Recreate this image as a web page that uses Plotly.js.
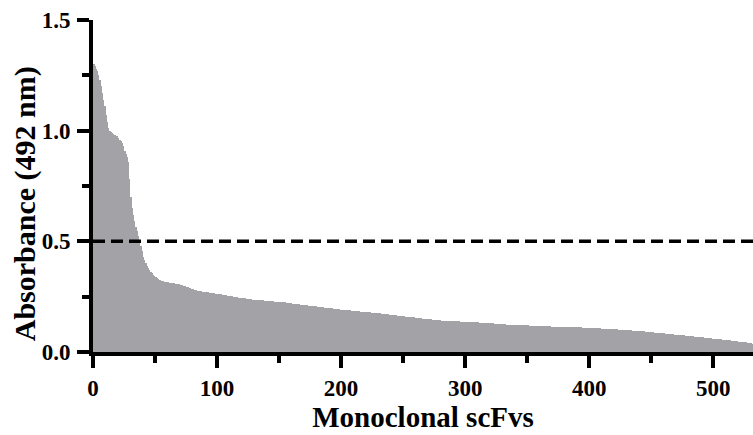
<!DOCTYPE html>
<html>
<head>
<meta charset="utf-8">
<script src="https://cdn.plot.ly/plotly-3.0.1.min.js"></script>
<style>
html,body{margin:0;padding:0;background:#fff;}
#chart{width:753px;height:435px;}
</style>
</head>
<body>
<div id="chart"></div>
<script>
// Absorbance (492 nm) of monoclonal scFvs, sorted descending
var absorbance = [
1.30,1.29,1.28,1.27,1.25,1.23,1.20,1.17,1.14,1.11,
1.07,1.04,1.01,1.00,0.995,0.99,0.985,0.98,0.978,0.975,
0.965,0.958,0.952,0.945,0.93,0.91,0.895,0.88,0.86,0.78,
0.70,0.65,0.62,0.59,0.565,0.545,0.525,0.505,0.48,0.455,
0.43,0.415,0.40,0.39,0.38,0.37,0.362,0.355,0.35,0.345,
0.34,0.335,0.331,0.327,0.324,0.322,0.320,0.318,0.317,0.316,
0.315,0.314,0.313,0.312,
0.311,0.310,0.309,0.308,0.306,0.305,0.304,0.302,0.300,0.298,0.296,
0.294,0.292,0.290,0.288,0.286,0.284,0.282,0.280,0.278,0.277,
0.276,0.275,0.274,0.273,0.272,0.271,0.270,0.269,0.268,0.268,0.267,0.266,0.265,0.264,0.264,0.263,0.262,0.261,0.260,0.259,
0.258,0.257,0.256,0.255,0.254,0.253,0.252,0.251,0.250,0.249,0.248,0.247,0.246,0.246,0.245,0.244,0.243,0.242,0.241,0.240,0.240,0.239,0.238,0.237,
0.237,0.236,0.236,0.235,0.235,0.234,0.234,0.233,0.233,0.232,0.232,0.231,0.231,0.230,0.230,0.229,0.229,0.228,0.228,0.227,0.227,0.226,0.226,0.225,
0.224,0.224,0.223,0.222,0.222,0.221,0.220,0.219,0.219,0.218,0.217,0.217,0.216,0.215,0.214,0.214,0.213,0.212,0.212,0.211,0.210,0.209,0.209,0.208,0.207,
0.206,0.206,0.205,0.204,0.204,0.203,0.202,0.202,0.201,0.200,0.200,0.199,0.198,0.198,0.197,0.196,0.196,0.195,0.194,0.194,0.193,0.192,0.192,
0.191,0.191,0.190,0.190,0.189,0.189,0.188,0.187,0.187,0.186,0.186,0.185,0.185,0.184,0.183,0.183,0.182,0.182,0.181,0.181,0.180,0.179,0.179,0.178,0.178,0.177,0.177,
0.176,0.175,0.175,0.174,0.173,0.173,0.172,0.171,0.170,0.170,0.169,0.168,0.168,0.167,0.166,0.166,0.165,0.164,0.163,0.163,0.162,0.161,0.161,0.160,0.159,0.159,0.158,
0.157,0.157,0.156,0.156,0.155,0.154,0.154,0.153,0.152,0.152,0.151,0.151,0.150,0.149,0.149,0.148,0.147,0.147,0.146,0.146,0.145,0.144,0.144,0.143,0.143,0.142,0.142,
0.141,0.141,0.141,0.140,0.140,0.140,0.139,0.139,0.139,0.139,0.138,0.138,0.138,0.138,0.137,0.137,0.137,0.137,0.136,0.136,0.136,0.136,0.135,0.135,0.135,0.135,
0.134,0.134,0.134,0.133,0.133,0.132,0.132,0.132,0.131,0.131,0.130,0.130,0.130,0.129,0.129,0.128,0.128,0.128,0.127,0.127,0.126,0.126,0.126,0.125,0.125,0.124,0.124,
0.124,0.123,0.123,0.123,0.123,0.122,0.122,0.122,0.121,0.121,0.121,0.121,0.120,0.120,0.120,0.120,0.119,0.119,0.119,0.119,0.118,0.118,0.118,0.118,0.117,0.117,0.117,
0.117,0.117,0.116,0.116,0.116,0.116,0.116,0.115,0.115,0.115,0.115,0.115,0.114,0.114,0.114,0.114,0.114,0.113,0.113,0.113,0.113,0.113,0.112,0.112,0.112,0.112,0.112,0.111,0.111,0.111,0.111,0.111,0.110,0.110,0.110,0.110,0.110,0.109,0.109,0.109,
0.109,0.108,0.108,0.108,0.107,0.107,0.107,0.106,0.106,0.106,0.105,0.105,0.105,0.104,0.104,0.104,0.103,0.103,0.103,0.102,0.102,0.101,0.101,0.101,0.100,0.100,0.100,0.099,0.099,0.099,0.098,0.098,0.097,0.097,0.097,0.096,0.096,0.095,0.095,0.094,
0.094,0.093,0.093,0.092,0.092,0.091,0.091,0.090,0.089,0.089,0.088,0.088,0.087,0.087,0.086,0.086,0.085,0.084,0.084,0.083,0.083,0.082,0.082,0.081,0.080,0.080,0.079,0.079,0.078,0.078,0.077,0.077,0.076,
0.075,0.075,0.074,0.074,0.073,0.073,0.072,0.071,0.071,0.070,0.070,0.069,0.068,0.068,0.067,0.067,0.066,0.065,0.065,0.064,0.064,0.063,0.062,0.062,0.061,0.061,
0.060,0.059,0.059,0.058,0.057,0.057,0.056,0.055,0.055,0.054,0.053,0.052,0.052,0.051,0.050,0.050,0.049,0.048,0.048,0.047,0.046,0.046,
0.045,0.044,0.043,0.043,0.042,0.041,0.040,0.039,0.038
];
var clones = absorbance.map(function(_, k){ return k + 0.5; });
var cutoff = 0.5;
var yTickVals = [0, 0.5, 1.0, 1.5];
var yTickText = ["0.0", "0.5", "1.0", "1.5"];
var xTickVals = [0, 100, 200, 300, 400, 500];
var xTitle = "Monoclonal scFvs";
var yTitle = "Absorbance (492 nm)";

var fontFam = "Liberation Serif, Times New Roman, serif";
var nBars = absorbance.length;
var barColor = "#a3a2a7";

var traces = [{
  type: "bar",
  x: clones,
  y: absorbance,
  width: 1,
  marker: {color: barColor, line: {width: 0}},
  hoverinfo: "skip"
}];

var layout = {
  width: 753, height: 435,
  margin: {l: 93, r: 0, t: 20, b: 83, pad: 0},
  paper_bgcolor: "#fff",
  plot_bgcolor: "#fff",
  showlegend: false,
  bargap: 0,
  font: {family: fontFam, color: "#000"},
  xaxis: {
    range: [0, nBars],
    showgrid: false, zeroline: false,
    showline: true, linecolor: "#000", linewidth: 4,
    ticks: "outside", ticklen: 12, tickwidth: 4, tickcolor: "#000",
    tickvals: xTickVals,
    tickfont: {family: fontFam, size: 23, weight: "bold", color: "#000"},
    minor: {dtick: 50, tick0: 0, ticks: "outside", ticklen: 7, tickwidth: 4, tickcolor: "#000", showgrid: false},
    title: {text: xTitle, font: {family: fontFam, size: 29, weight: "bold", color: "#000"}, standoff: 8},
    fixedrange: true
  },
  yaxis: {
    range: [0, 1.5],
    showgrid: false, zeroline: false,
    showline: true, linecolor: "#000", linewidth: 4,
    ticks: "outside", ticklen: 12, tickwidth: 4, tickcolor: "#000",
    tickvals: yTickVals, ticktext: yTickText,
    tickfont: {family: fontFam, size: 23, weight: "bold", color: "#000"},
    minor: {dtick: 0.25, tick0: 0, ticks: "outside", ticklen: 7, tickwidth: 4, tickcolor: "#000", showgrid: false},
    ticklabelstandoff: 2,
    fixedrange: true
  },
  annotations: [{
    text: yTitle, textangle: -90,
    xref: "paper", yref: "paper",
    x: -0.103, y: 0.445, xanchor: "center", yanchor: "middle",
    showarrow: false,
    font: {family: fontFam, size: 30, weight: "bold", color: "#000"}
  }],
  shapes: [{
    type: "line", xref: "x", yref: "y",
    x0: 0, x1: nBars, y0: cutoff, y1: cutoff,
    line: {color: "#000", width: 3.5, dash: "12px,6px"}
  }]
};

Plotly.newPlot("chart", traces, layout, {displayModeBar: false});
</script>
</body>
</html>
